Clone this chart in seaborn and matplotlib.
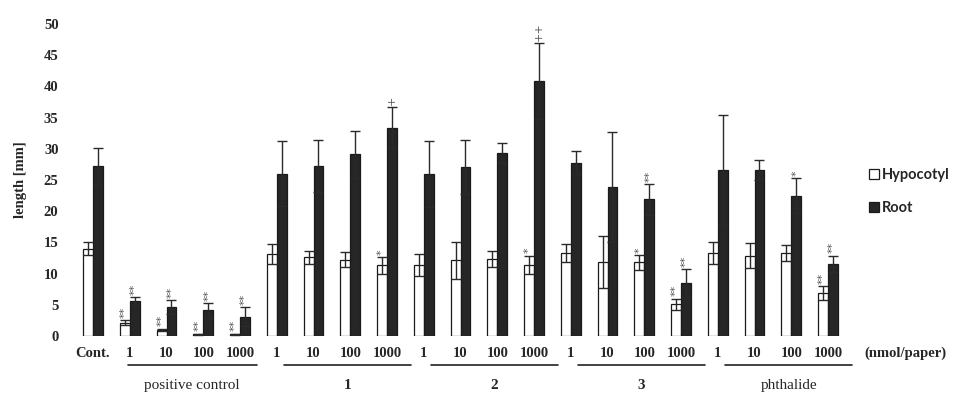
import matplotlib
matplotlib.use("Agg")
import matplotlib.pyplot as plt
import seaborn as sns
import pandas as pd
from matplotlib.patches import Patch

# ---------------- data ----------------
groups = ["positive control", "1", "2", "3", "phthalide"]
doses = ["1", "10", "100", "1000"]
categories = ["Cont."] + [f"{g}|{d}" for g in groups for d in doses]
tick_labels = ["Cont."] + doses * len(groups)
parts = ["Hypocotyl", "Root"]

hypocotyl = [14.0, 2.1, 1.0, 0.3, 0.3, 13.2, 12.6, 12.2, 11.3, 11.4, 12.1,
             12.4, 11.4, 13.3, 11.9, 11.8, 5.1, 13.3, 12.9, 13.3, 6.9]
hypocotyl_err = [1.0, 0.4, 0.2, 0.1, 0.1, 1.6, 1.0, 1.2, 1.4, 1.8, 3.0,
                 1.3, 1.5, 1.5, 4.2, 1.2, 0.9, 1.7, 2.0, 1.3, 1.1]
root = [27.2, 5.6, 4.6, 4.1, 3.1, 26.0, 27.2, 29.1, 33.4, 25.9, 27.1,
        29.3, 40.8, 27.8, 23.9, 21.9, 8.5, 26.6, 26.6, 22.5, 11.6]
root_err = [3.0, 0.6, 1.1, 1.2, 1.5, 5.2, 4.2, 3.7, 3.3, 5.3, 4.3,
            1.6, 6.1, 1.8, 8.8, 2.5, 2.2, 8.8, 1.6, 2.8, 1.3]
hypocotyl_marks = ["", "**", "**", "**", "**", "", "", "", "*", "", "", "",
                   "*", "", "", "*", "**", "", "", "", "**"]
root_marks = ["", "**", "**", "**", "**", "", "", "", "+", "", "", "",
              "++", "", "", "**", "**", "", "", "*", "**"]
yticks = [0, 5, 10, 15, 20, 25, 30, 35, 40, 45, 50]

df = pd.DataFrame({
    "category": categories * 2,
    "part": [parts[0]] * len(categories) + [parts[1]] * len(categories),
    "length": hypocotyl + root,
})

# ---------------- figure ----------------
sns.set_theme(style="white")
plt.rcParams["font.family"] = ["Liberation Serif", "DejaVu Serif"]

fig = plt.figure(figsize=(9.63, 4.01), dpi=100)
W, H = 963, 401
x0px, dx = 93, 36.75
left_px = x0px - 0.6 * dx
right_px = x0px + 20.6 * dx
ax = fig.add_axes([left_px / W, 1 - 336 / H, (right_px - left_px) / W, (336 - 24) / H])

sns.barplot(data=df, x="category", y="length", hue="part", order=categories,
            hue_order=parts, palette={"Hypocotyl": "white", "Root": "#262626"},
            width=0.54, edgecolor="#1a1a1a", linewidth=0.9, errorbar=None,
            ax=ax, legend=False)

ax.set_xlim(-0.6, 20.6)
ax.set_ylim(0, 50)
ax.set_yticks(yticks)
ax.set_yticklabels([str(t) for t in yticks], fontweight="bold", fontsize=10.5)
ax.tick_params(axis="y", length=0, pad=9)
ax.set_xticks([])
ax.set_xlabel("")
ax.set_ylabel("length [mm]", fontweight="bold", fontsize=10.5, labelpad=12)
for s in ax.spines.values():
    s.set_visible(False)

# error bars and significance marks
for cont, vals, errs, marks in [(ax.containers[0], hypocotyl, hypocotyl_err, hypocotyl_marks),
                                (ax.containers[1], root, root_err, root_marks)]:
    xs = [p.get_x() + p.get_width() / 2 for p in cont.patches]
    ax.errorbar(xs, vals, yerr=errs, fmt="none", ecolor="#2a2a2a",
                elinewidth=1.0, capsize=3.5, capthick=1.0, clip_on=False)
    for x, v, e, m in zip(xs, vals, errs, marks):
        if m:
            ax.annotate(m, (x, v + e), xytext=(0, 1.5), textcoords="offset points",
                        ha="center", va="bottom", rotation=90, fontsize=8,
                        color="#555555", fontfamily="DejaVu Sans", annotation_clip=False)

# x labels
tr = ax.get_xaxis_transform()
for i, lab in enumerate(tick_labels):
    ax.text(i, -0.055, lab, transform=tr, ha="center", va="center",
            fontweight="bold", fontsize=10.5)
for gi, g in enumerate(groups):
    first = 1 + gi * 4
    last = first + 3
    start = first - 0.05 if gi == 0 else first + 0.2
    end = last + 0.45 if gi == 0 else last + 0.66
    ax.plot([start, end], [-0.093, -0.093], transform=tr, color="#222222",
            lw=1.2, clip_on=False)
    bold = "bold" if g in ("1", "2", "3") else "normal"
    ax.text((start + end) / 2, -0.16, g, transform=tr, ha="center", va="center",
            fontsize=11, fontweight=bold)
fig.text(905 / W, 1 - 353 / H, "(nmol/paper)", ha="center", va="center",
         fontweight="bold", fontsize=10.5)

# legend
handles = [Patch(facecolor="white", edgecolor="#1a1a1a", linewidth=0.9),
           Patch(facecolor="#262626", edgecolor="#1a1a1a", linewidth=0.9)]
fig.legend(handles, parts, loc="upper left", bbox_to_anchor=(866 / W, 1 - 165 / H),
           frameon=False, handlelength=0.7, handleheight=0.7, handletextpad=0.2,
           borderaxespad=0, borderpad=0.2,
           labelspacing=1.3, prop={"family": "Lato", "weight": "bold", "size": 10.5})

fig.savefig("out.png", dpi=100, facecolor="white")
